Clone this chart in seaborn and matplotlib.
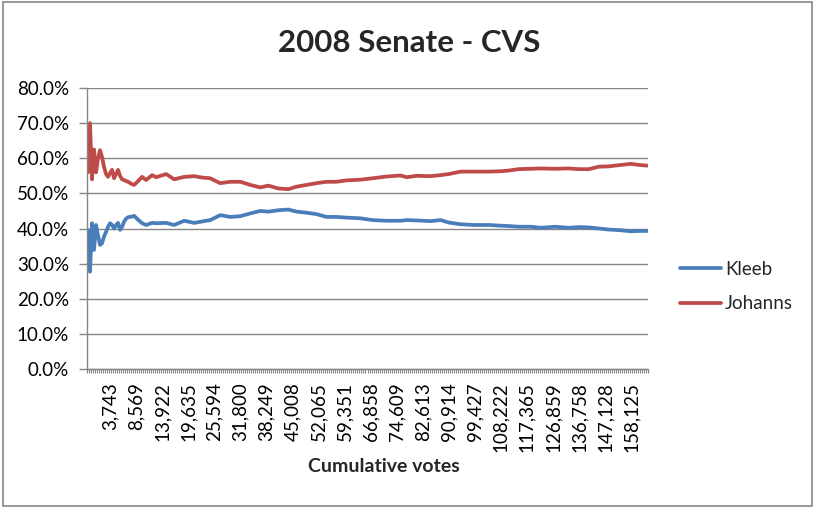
import matplotlib
matplotlib.use("Agg")
import matplotlib.pyplot as plt
import seaborn as sns
import pandas as pd
from matplotlib.patches import Rectangle
from matplotlib.ticker import FuncFormatter, FixedLocator, MultipleLocator

sns.set_theme(style="white")
plt.rcParams["font.family"] = ["Lato", "DejaVu Sans"]

# report number (category index on the x axis) and vote share in %
report = [0, 1, 2, 3, 4, 5, 6, 7, 8, 9, 10, 11, 12, 13, 14, 15, 16, 17, 18, 19, 20,
          22, 23, 25, 27, 29, 32, 34, 39, 43, 48, 53, 57, 61, 66, 71, 76, 81, 86, 90,
          95, 100, 104, 109, 114, 119, 124, 129, 136, 142, 149, 156, 159, 164, 171,
          176, 180, 186, 193, 200, 206, 210, 215, 221, 226, 233, 240, 245, 250, 255,
          260, 266, 271, 275, 279]
kleeb = [39.6, 27.7, 41.5, 33.9, 41.0, 38.0, 35.3, 35.8, 37.7, 39.0, 40.5, 41.5, 41.0,
         40.0, 41.0, 41.6, 39.6, 40.5, 41.9, 42.8, 43.2, 43.4, 43.6, 42.5, 41.5, 41.0,
         41.6, 41.5, 41.6, 41.0, 42.2, 41.6, 42.0, 42.4, 43.8, 43.3, 43.5, 44.3, 45.0,
         44.8, 45.2, 45.4, 44.8, 44.5, 44.1, 43.3, 43.3, 43.1, 42.9, 42.4, 42.2, 42.2,
         42.4, 42.3, 42.1, 42.4, 41.7, 41.2, 41.0, 41.0, 40.8, 40.7, 40.5, 40.5, 40.2,
         40.5, 40.2, 40.4, 40.3, 40.0, 39.7, 39.5, 39.2, 39.3, 39.3]
johanns = [56.0, 70.0, 54.0, 62.5, 56.0, 60.0, 62.3, 60.4, 57.5, 55.5, 54.7, 55.8, 56.7,
           54.3, 55.5, 56.7, 55.0, 54.0, 53.8, 53.5, 53.3, 52.6, 52.4, 53.5, 54.7, 53.8,
           55.2, 54.6, 55.5, 54.0, 54.7, 54.9, 54.5, 54.3, 52.9, 53.3, 53.3, 52.4, 51.7,
           52.2, 51.4, 51.2, 51.9, 52.4, 52.9, 53.3, 53.3, 53.7, 53.9, 54.3, 54.8, 55.1,
           54.6, 55.0, 54.9, 55.2, 55.5, 56.2, 56.2, 56.2, 56.3, 56.5, 56.9, 57.0, 57.1,
           57.0, 57.1, 56.9, 56.9, 57.6, 57.7, 58.1, 58.4, 58.1, 57.9]
vote_labels = ["3,743", "8,569", "13,922", "19,635", "25,594", "31,800", "38,249",
               "45,008", "52,065", "59,351", "66,858", "74,609", "82,613", "90,914",
               "99,427", "108,222", "117,365", "126,859", "136,758", "147,128", "158,125"]
n_reports = 280
label_first = 11
label_step = 13

df = pd.DataFrame({
    "report": report * 2,
    "share": kleeb + johanns,
    "candidate": ["Kleeb"] * len(report) + ["Johanns"] * len(report),
})

W, H = 815, 507
fig = plt.figure(figsize=(W / 100, H / 100), dpi=100)
ax = fig.add_axes([87 / W, 1 - 369 / H, (648 - 87) / W, (369 - 88) / H])

sns.lineplot(data=df, x="report", y="share", hue="candidate",
             palette={"Kleeb": "#4A7EBB", "Johanns": "#BE4B48"},
             linewidth=2.7, ax=ax)

gray = "#868686"
ax.set_xlim(-0.5, n_reports - 0.5)
ax.set_ylim(0, 80)
ax.yaxis.set_major_locator(MultipleLocator(10))
ax.yaxis.set_major_formatter(FuncFormatter(lambda v, p: f"{v:.1f}%"))
ax.grid(axis="y", color=gray, linewidth=1)
ax.set_axisbelow(True)

ticks = [label_first + label_step * i for i in range(len(vote_labels))]
ax.xaxis.set_major_locator(FixedLocator(ticks))
ax.set_xticklabels(vote_labels, rotation=90, va="top", ha="center")
ax.xaxis.set_minor_locator(FixedLocator([i + 0.5 for i in range(-1, n_reports)]))
ax.tick_params(axis="x", which="major", length=0, pad=9.5, labelsize=13.5, colors="black")
ax.tick_params(axis="x", which="minor", length=3, width=0.8, color=gray, bottom=True, direction="out")
ax.tick_params(axis="y", which="major", length=6, width=1, color=gray, left=True,
               direction="out", pad=7, labelsize=13.5, labelcolor="black")

for s in ["top", "right"]:
    ax.spines[s].set_visible(False)
for s in ["left", "bottom"]:
    ax.spines[s].set_color(gray)
    ax.spines[s].set_linewidth(1)

ax.set_xlabel("")
ax.set_ylabel("")

handles, labels = ax.get_legend_handles_labels()
ax.legend(handles, labels, loc="center left", bbox_to_anchor=(680 / W, 1 - 286.5 / H),
          bbox_transform=fig.transFigure, frameon=False, fontsize=13.5,
          handlelength=2.2, handletextpad=0.2, labelspacing=0.95,
          borderpad=0, borderaxespad=0)

fig.text(409 / W, 1 - 43 / H, "2008 Senate - CVS", ha="center", va="center",
         fontsize=22.5, fontweight="bold")
fig.text(384 / W, 1 - 467 / H, "Cumulative votes", ha="center", va="center",
         fontsize=14, fontweight="bold")

fig.patches.append(Rectangle((2.5 / W, 1.5 / H), (812 - 2.5) / W, (505 - 1.5) / H,
                             transform=fig.transFigure, fill=False,
                             edgecolor=gray, linewidth=1.2))

fig.savefig("out.png", dpi=100)
